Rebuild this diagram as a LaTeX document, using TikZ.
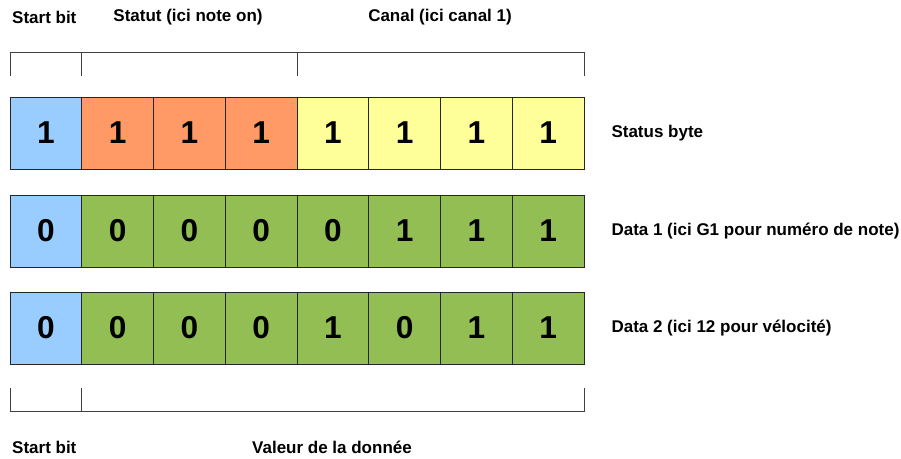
\documentclass[tikz,border=0pt]{standalone}
\usepackage{fontspec}
\setmainfont{Liberation Sans}
\usetikzlibrary{positioning}
\definecolor{startblue}{RGB}{153,204,255}
\definecolor{statorange}{RGB}{255,153,102}
\definecolor{chanyellow}{RGB}{255,255,153}
\definecolor{datagreen}{RGB}{146,190,84}

\begin{document}
\begin{tikzpicture}[x=0.03cm, y=-0.03cm,
  bitcell/.style={draw=black!85, line width=0.6pt, minimum width=2.15cm,
    minimum height=2.16cm, inner sep=0pt, font=\fontsize{27}{30}\selectfont\bfseries},
  lbl/.style={font=\fontsize{14.5}{17}\selectfont\bfseries, inner sep=0pt},
  brk/.style={draw=black!75, line width=0.6pt}]
  \useasboundingbox (0,0) rectangle (901,459);
  % Top: field labels and bracket
  \node[lbl, anchor=west] (tstart) at (12,17) {Start bit};
  \node[lbl] (tstatut) at (188,17) {Statut (ici note on)};
  \node[lbl] (tcanal) at (440,17) {Canal (ici canal 1)};
  \draw[brk] (10,76) -- (10,52) -- (584,52) -- (584,76);
  \draw[brk] (81,52) -- (81,76);
  \draw[brk] (297,52) -- (297,76);
  % Row 1: status byte
  \foreach \b/\c [count=\i from 0] in {1/startblue,1/statorange,1/statorange,1/statorange,
      1/chanyellow,1/chanyellow,1/chanyellow,1/chanyellow}
    \node[bitcell, fill=\c] (s\i) at ({10+71.75*(\i+0.5)},133) {\b};
  \node[lbl, right=0.81cm of s7] (sbyte) {Status byte};
  % Row 2: data 1
  \foreach \b/\c [count=\i from 0] in {0/startblue,0/datagreen,0/datagreen,0/datagreen,
      0/datagreen,1/datagreen,1/datagreen,1/datagreen}
    \node[bitcell, fill=\c] (d\i) at ({10+71.75*(\i+0.5)},231) {\b};
  \node[lbl, right=0.81cm of d7] (dataone) {Data 1 (ici G1 pour numéro de note)};
  % Row 3: data 2
  \foreach \b/\c [count=\i from 0] in {0/startblue,0/datagreen,0/datagreen,0/datagreen,
      1/datagreen,0/datagreen,1/datagreen,1/datagreen}
    \node[bitcell, fill=\c] (v\i) at ({10+71.75*(\i+0.5)},328) {\b};
  \node[lbl, right=0.81cm of v7] (datatwo) {Data 2 (ici 12 pour vélocité)};
  % Bottom: bracket and labels
  \draw[brk] (10,388) -- (10,411) -- (584,411) -- (584,388);
  \draw[brk] (81,388) -- (81,411);
  \node[lbl, anchor=west] (bstart) at (12,447) {Start bit};
  \node[lbl] (bvaleur) at (332,447) {Valeur de la donnée};
\end{tikzpicture}
\end{document}
